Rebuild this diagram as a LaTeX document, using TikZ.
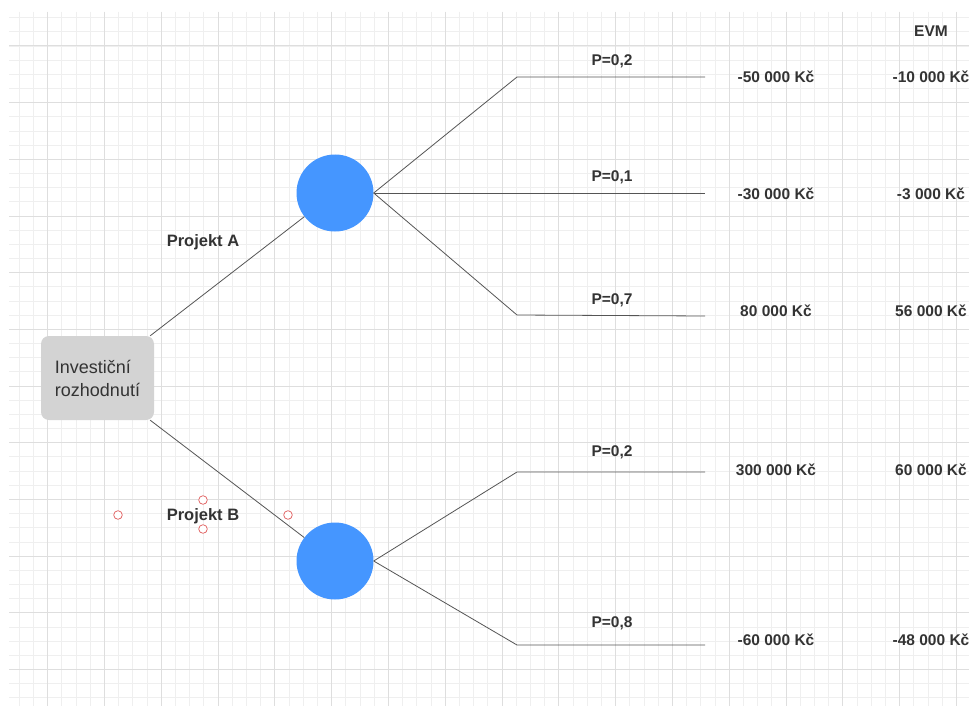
\documentclass[tikz,border=0pt]{standalone}
\usepackage{fontspec}
\setmainfont{Liberation Sans}
\usepackage{xcolor}
\usetikzlibrary{positioning}

\definecolor{nodeblue}{HTML}{4596FF}
\definecolor{boxgray}{HTML}{D3D3D3}
\definecolor{textgray}{HTML}{333333}
\definecolor{linegray}{HTML}{555555}
\definecolor{gridminor}{HTML}{EFEFEF}
\definecolor{gridmajor}{HTML}{DEDEDE}
\definecolor{handlered}{HTML}{E05A5A}

\begin{document}
\begin{tikzpicture}[x=1pt, y=-1pt,
    minorline/.style={gridminor, line width=0.9pt},
    majorline/.style={gridmajor, line width=1pt},
    decision/.style={fill=boxgray, rounded corners=8pt, minimum width=113pt, minimum height=84pt,
      align=left, text=textgray, font=\fontsize{18}{23}\selectfont},
    chance/.style={circle, fill=nodeblue, minimum size=77pt, inner sep=0pt},
    branch/.style={linegray, line width=0.8pt},
    lbl/.style={text=textgray, font=\fontsize{15.5}{18}\selectfont\bfseries, inner sep=0pt,
      text height=11pt, text depth=0pt},
    handle/.style={handlered, fill=white, line width=0.7pt}]
  \useasboundingbox (0,0) rectangle (969,706);
  \fill[white] (0,0) rectangle (969,706);

  % grid
  \foreach \k in {-2,...,46}
    \draw[minorline] (9,{46+14.17*\k}) -- (969,{46+14.17*\k});
  \foreach \k in {-2,...,64}
    \draw[minorline] ({47.7+14.2*\k},12) -- ({47.7+14.2*\k},706);
  \foreach \k in {0,4,...,44}
    \draw[majorline] (9,{46+14.17*\k}) -- (969,{46+14.17*\k});
  \foreach \k in {0,4,...,64}
    \draw[majorline] ({47.7+14.2*\k},12) -- ({47.7+14.2*\k},706);

  % tree
  \node[decision] (root) at (97.5,378) {Investiční\\rozhodnutí};
  \node[chance] (a) at (335,193) {};
  \node[chance] (b) at (335,561) {};

  \coordinate (a1) at (517,77);  \coordinate (a1e) at (705,77);
  \coordinate (a2e) at (705,193);
  \coordinate (a3) at (517,315); \coordinate (a3e) at (705,316);
  \coordinate (b1) at (517,472); \coordinate (b1e) at (705,472);
  \coordinate (b2) at (517,645); \coordinate (b2e) at (705,645);

  \draw[branch] ([xshift=-4pt]root.north east) -- (a);
  \draw[branch] ([xshift=-4pt]root.south east) -- (b);
  \draw[branch] (a.east) -- (a1) -- (a1e);
  \draw[branch] (a.east) -- (a2e);
  \draw[branch] (a.east) -- (a3) -- (a3e);
  \draw[branch] (b.east) -- (b1) -- (b1e);
  \draw[branch] (b.east) -- (b2) -- (b2e);

  \node[lbl, font=\fontsize{16.5}{19}\selectfont\bfseries] (pa) at (203,241) {Projekt A};
  \node[lbl, font=\fontsize{16.5}{19}\selectfont\bfseries] (pb) at (203,515) {Projekt B};

  % probabilities
  \node[lbl] (p1) at (612,60) {P=0,2};
  \node[lbl] (p2) at (612,176) {P=0,1};
  \node[lbl] (p3) at (612,299) {P=0,7};
  \node[lbl] (p4) at (612,451) {P=0,2};
  \node[lbl] (p5) at (612,622) {P=0,8};

  % payoffs and EVM
  \node[lbl] (evm) at (931,31) {EVM};
  \node[lbl] (v1) at (776,77) {-50 000 Kč};
  \node[lbl] (e1) at (931,77) {-10 000 Kč};
  \node[lbl] (v2) at (776,194) {-30 000 Kč};
  \node[lbl] (e2) at (931,194) {-3 000 Kč};
  \node[lbl] (v3) at (776,311) {80 000 Kč};
  \node[lbl] (e3) at (931,311) {56 000 Kč};
  \node[lbl] (v4) at (776,470) {300 000 Kč};
  \node[lbl] (e4) at (931,470) {60 000 Kč};
  \node[lbl] (v5) at (776,640) {-60 000 Kč};
  \node[lbl] (e5) at (931,640) {-48 000 Kč};

  % selection handles round the label
  \draw[handle] (118,515) circle (4.3);
  \draw[handle] (203,500) circle (4.3);
  \draw[handle] (203,529) circle (4.3);
  \draw[handle] (288,515) circle (4.3);
\end{tikzpicture}
\end{document}
